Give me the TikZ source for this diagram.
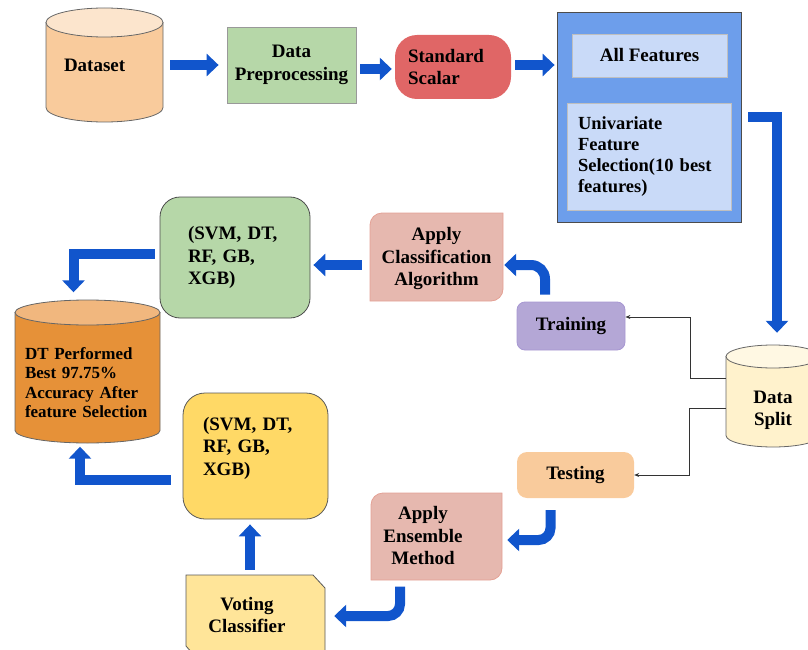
\documentclass[tikz,border=0pt]{standalone}
\usepackage{fontspec}
\setmainfont{Liberation Serif}
\usetikzlibrary{arrows.meta}

\definecolor{arrowblue}{HTML}{1155CC}
\definecolor{dsbody}{HTML}{F9CB9C}
\definecolor{dstop}{HTML}{FCE5CD}
\definecolor{prepgreen}{HTML}{B6D7A8}
\definecolor{scalred}{HTML}{E06666}
\definecolor{featblue}{HTML}{6D9EEB}
\definecolor{featlight}{HTML}{C9DAF8}
\definecolor{pinkfill}{HTML}{E6B8AF}
\definecolor{pinkedge}{HTML}{E4A195}
\definecolor{trainpurple}{HTML}{B4A7D6}
\definecolor{trainedge}{HTML}{A797D2}
\definecolor{splitbody}{HTML}{FFF2CC}
\definecolor{splittop}{HTML}{FFF8E3}
\definecolor{resbody}{HTML}{E69138}
\definecolor{restop}{HTML}{F1B77E}
\definecolor{svmyellow}{HTML}{FFD966}
\definecolor{votingyellow}{HTML}{FFE599}

\begin{document}
\begin{tikzpicture}[x=1pt,y=-1pt,
    lbl/.style={font=\fontsize{19}{22.5}\selectfont\bfseries, align=center, inner sep=0pt},
    box/.style={lbl, draw=gray!80, line width=0.8pt},
    cylline/.style={draw=black!60, line width=0.8pt},
    fat/.style={draw=arrowblue, line width=10pt, -{Triangle[length=12pt,width=22pt]}},
    link/.style={draw=black!80, line width=0.8pt, -{Stealth[length=5pt,width=4pt]}}]
        \useasboundingbox (0,0) rectangle (808,650);
        \clip (0,0) rectangle (808,650);

        % Cylinders
        \filldraw[cylline, fill=dsbody] (46,22.5) -- (46,107.5) arc[start angle=180, end angle=0, x radius=58.5, y radius=14.5] -- (163,22.5) -- cycle;
        \filldraw[cylline, fill=dstop] (104.5,22.5) ellipse[x radius=58.5, y radius=14.5];
        \filldraw[cylline, fill=splitbody] (726,356.5) -- (726,435.5) arc[start angle=180, end angle=0, x radius=47, y radius=11.5] -- (820,356.5) -- cycle;
        \filldraw[cylline, fill=splittop] (773,356.5) ellipse[x radius=47, y radius=11.5];
        \filldraw[cylline, fill=resbody] (15,312.5) -- (15,430.5) arc[start angle=180, end angle=0, x radius=72.5, y radius=12.5] -- (160,312.5) -- cycle;
        \filldraw[cylline, fill=restop] (87.5,312.5) ellipse[x radius=72.5, y radius=12.5];

        % Odd shaped boxes
        \filldraw[draw=pinkedge, fill=pinkfill, line width=0.8pt] (370,301) -- (370,225) arc[start angle=180, end angle=270, radius=12] -- (503,213) -- (503,289) arc[start angle=0, end angle=90, radius=12] -- cycle;
        \filldraw[draw=pinkedge, fill=pinkfill, line width=0.8pt] (371,580) -- (371,505) arc[start angle=180, end angle=270, radius=12] -- (502,493) -- (502,568) arc[start angle=0, end angle=90, radius=12] -- cycle;
        \filldraw[draw=black!65, fill=votingyellow, line width=0.8pt] (186,575) -- (313,575) -- (325,588) -- (325,662) -- (200,662) -- (186,646) -- cycle;

        % Nodes
        \node[lbl, minimum width=117, minimum height=85, text width=81, align=left] (dataset) at (104.5,65) {Dataset};
        \node[box, fill=prepgreen, minimum width=129, minimum height=76] (prep) at (291.5,65) {Data\\Preprocessing};
        \node[lbl, fill=scalred, rounded corners=22, minimum width=116, minimum height=64, text width=90, align=left] (scaler) at (453,67) {Standard\\Scalar};
        \node[draw=black!70, fill=featblue, line width=0.8pt, minimum width=184, minimum height=210] (featbox) at (649,117) {};
        \node[box, draw=black!25, fill=featlight, minimum width=155, minimum height=43] (allfeat) at (649.5,55.5) {All Features};
        \node[box, draw=black!25, fill=featlight, minimum width=164, minimum height=107, text width=142, align=left, font=\fontsize{18.5}{21}\selectfont\bfseries] (univar) at (649,156.5) {Univariate\\Feature\\Selection(10 best\\features)};
        \node[lbl, minimum width=94, minimum height=75] (split) at (773,410.5) {Data\\Split};
        \node[box, draw=trainedge, fill=trainpurple, rounded corners=8, minimum width=108, minimum height=48] (train) at (571,326) {Training};
        \node[lbl, fill=dsbody, rounded corners=10, minimum width=117, minimum height=46] (test) at (575.5,475) {Testing};
        \node[lbl, minimum width=133, minimum height=88] (classify) at (436.5,259) {Apply\\Classification\\Algorithm};
        \node[box, draw=black!70, fill=prepgreen, rounded corners=20, minimum width=150, minimum height=121, text width=94, align=left] (svmA) at (235,257.5) {(SVM, DT,\\RF, GB,\\XGB)};
        \node[lbl, minimum width=145, minimum height=120, text width=125, align=left, font=\fontsize{17}{19.5}\selectfont\bfseries] (result) at (87.5,382.5) {DT Performed\\Best 97.75\%\\Accuracy After\\feature Selection};
        \node[box, draw=black!65, fill=svmyellow, rounded corners=22, minimum width=145, minimum height=126] (svmB) at (255.5,456) {};
        \node[lbl, text width=105, align=left] (svmBtxt) at ([yshift=8pt]svmB.center) {(SVM, DT,\\RF, GB,\\XGB)};
        \node[lbl, minimum width=131, minimum height=87] (ensemble) at (423,535.5) {Apply\\Ensemble\\Method};
        \node[lbl, minimum width=139, minimum height=85] (voting) at (247,615) {Voting\\Classifier};

        % Blue arrows
        \draw[fat] ([xshift=7pt]dataset.east) -- ([xshift=-8pt]prep.west);
        \draw[fat] ([xshift=4pt,yshift=-4pt]prep.east) -- ([xshift=-3pt,yshift=-2pt]scaler.west);
        \draw[fat] ([xshift=4pt,yshift=2pt]scaler.east) -- ([xshift=-2pt,yshift=52pt]featbox.west);
        \draw[fat] ([xshift=7pt]featbox.east) -| ([xshift=4pt,yshift=40pt]split.north);
        \draw[fat, rounded corners=14pt] ([xshift=-26pt,yshift=7pt]train.north) |- ([xshift=1pt,yshift=-6pt]classify.east);
        \draw[fat] ([xshift=-8pt,yshift=-6pt]classify.west) -- ([xshift=3pt,yshift=-7.5pt]svmA.east);
        \draw[fat] ([xshift=-5pt,yshift=3.5pt]svmA.west) -| ([xshift=-14pt,yshift=30pt]result.north);
        \draw[fat, rounded corners=12pt] ([xshift=-25pt,yshift=-12pt]test.south) |- ([xshift=18.5pt,yshift=-4.5pt]ensemble.east);
        \draw[fat, rounded corners=12pt] ([xshift=-23pt,yshift=-7.5pt]ensemble.south) |- ([xshift=17.5pt,yshift=-1pt]voting.east);
        \draw[fat] ([xshift=3pt,yshift=2.5pt]voting.north) -- ([xshift=-5.5pt,yshift=-5pt]svmB.south);
        \draw[fat] ([xshift=-12pt,yshift=-23.5pt]svmB.west) -| ([xshift=-7.5pt,yshift=-4pt]result.south);

        % Thin split lines
        \draw[link] ([yshift=32.5pt]split.west) -- ++(-35,0) |- ([yshift=9pt]train.east);
        \draw[link] ([yshift=2.5pt]split.west) -- ++(-36,0) |- (test.east);
      \end{tikzpicture}
\end{document}
